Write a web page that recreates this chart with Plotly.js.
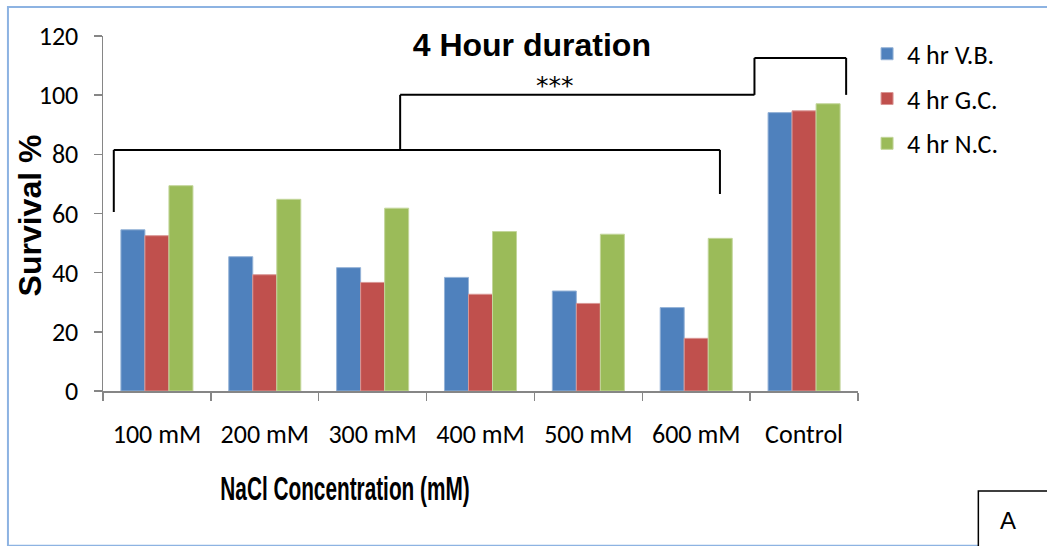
<!DOCTYPE html>
<html>
<head>
<meta charset="utf-8">
<script src="https://cdn.plot.ly/plotly-3.0.1.min.js"></script>
<style>
html,body{margin:0;padding:0;background:#fff;}
#chart{width:1047px;height:546px;}
</style>
</head>
<body>
<div id="chart"></div>
<script>
// ---- data ----
const categories = ["100 mM", "200 mM", "300 mM", "400 mM", "500 mM", "600 mM", "Control"];
const seriesNames = ["4 hr V.B.", "4 hr G.C.", "4 hr N.C."];
const vbValues = [54.5, 45.4, 41.7, 38.4, 33.8, 28.2, 94.1];
const gcValues = [52.5, 39.3, 36.7, 32.7, 29.6, 17.8, 94.7];
const ncValues = [69.4, 64.8, 61.8, 53.9, 53.0, 51.6, 97.1];
const yTicks = [0, 20, 40, 60, 80, 100, 120];
const seriesColors = ["#4F81BD", "#C0504D", "#9BBB59"];
const edgeColors = ["#95B3D7", "#D99694", "#C3D69B"];

// bracket geometry in data units (category index, survival %)
const lowerBracket = {x0: -0.4, x1: 5.22, y: 81.5, leftFoot: 60.5, rightFoot: 66.6};
const upperBracket = {xMid: 2.255, xStep: 5.54, xEnd: 6.39, y: 100.1, yTop: 112.6};
const sigLabel = "***";
const xTitleText = "NaCl Concentration (mM)";

const seriesValues = [vbValues, gcValues, ncValues];
const traces = seriesValues.map((vals, i) => ({
  type: "bar",
  name: seriesNames[i],
  legendgroup: "g" + i,
  x: categories,
  y: vals,
  marker: {color: seriesColors[i], line: {color: edgeColors[i], width: 1}},
  hoverinfo: "x+y+name"
}));

const blk = {color: "#000", width: 2};
function seg(x0, y0, x1, y1) {
  return {type: "line", xref: "x", yref: "y", x0: x0, y0: y0, x1: x1, y1: y1, line: blk, layer: "above"};
}
const lb = lowerBracket, ub = upperBracket;
const shapes = [
  seg(lb.x0, lb.leftFoot, lb.x0, lb.y),
  seg(lb.x0, lb.y, lb.x1, lb.y),
  seg(lb.x1, lb.y, lb.x1, lb.rightFoot),
  seg(ub.xMid, lb.y, ub.xMid, ub.y),
  seg(ub.xMid, ub.y, ub.xStep, ub.y),
  seg(ub.xStep, ub.y, ub.xStep, ub.yTop),
  seg(ub.xStep, ub.yTop, ub.xEnd, ub.yTop),
  seg(ub.xEnd, ub.yTop, ub.xEnd, ub.y),
  // outer frame
  {type: "rect", xref: "paper", yref: "paper", x0: -0.1259, x1: 1.26, y0: -0.436, y1: 1.0817,
   line: {color: "#8DB3E2", width: 2}, fillcolor: "rgba(0,0,0,0)"},
  // "A" box
  {type: "rect", xref: "paper", yref: "paper", x0: 1.1594, x1: 1.26, y0: -0.46, y1: -0.2817,
   line: {color: "#000", width: 1.5}, fillcolor: "#fff"}
];

const tickFont = {family: "Calibri, Carlito, Lato, sans-serif", size: 26, color: "#000"};

const layout = {
  width: 1047, height: 546,
  margin: {l: 103, r: 189, t: 36, b: 155, pad: 0},
  paper_bgcolor: "#fff", plot_bgcolor: "#fff",
  barmode: "group", bargap: 0.332, bargroupgap: 0,
  title: {text: "4 Hour duration", font: {family: "Liberation Sans, Arial, sans-serif", size: 32, color: "#000", weight: "bold"},
          xref: "paper", x: 0.568, xanchor: "center", yref: "container", y: 0.918, yanchor: "middle"},
  xaxis: {
    type: "category", range: [-0.5, 6.5], showline: true, linecolor: "#868686", linewidth: 1.5,
    ticks: "outside", ticklen: 8, tickcolor: "#868686", tickwidth: 1.5, tickson: "boundaries",
    tickfont: tickFont, ticklabelstandoff: 19, showgrid: false, zeroline: false, fixedrange: true
  },
  yaxis: {
    range: [0, 120], tickvals: yTicks, ticktext: yTicks.map(String), showline: true, linecolor: "#868686", linewidth: 1.5,
    ticks: "outside", ticklen: 8, tickcolor: "#868686", tickwidth: 1.5,
    tickfont: tickFont, ticklabelstandoff: 10, showgrid: false, zeroline: false, fixedrange: true
  },
  legend: {
    x: 1.012, xanchor: "left", y: 1.016, yanchor: "top", tracegroupgap: 8,
    font: {family: "Calibri, Carlito, Lato, sans-serif", size: 26, color: "#000"},
    bgcolor: "rgba(0,0,0,0)"
  },
  shapes: shapes,
  annotations: [
    {text: sigLabel, xref: "x", yref: "y", x: 3.69, y: 103.3, showarrow: false,
     font: {family: "DejaVu Sans, sans-serif", size: 25, color: "#000"}},
    {text: xTitleText, xref: "paper", yref: "paper", x: 0.3201, y: -0.2745, showarrow: false,
     xanchor: "center", yanchor: "middle",
     font: {family: "Liberation Sans, Arial, sans-serif", size: 33, color: "#000", weight: "bold"}},
    {text: "Survival %", xref: "paper", yref: "paper", x: -0.0961, y: 0.4958, showarrow: false, textangle: -90,
     xanchor: "center", yanchor: "middle",
     font: {family: "Liberation Sans, Arial, sans-serif", size: 32, color: "#000", weight: "bold"}},
    {text: "A", xref: "paper", yref: "paper", x: 1.1992, y: -0.366, showarrow: false, xanchor: "center", yanchor: "middle",
     font: {family: "Liberation Sans, Arial, sans-serif", size: 24, color: "#000"}}
  ],
  showlegend: true
};

Plotly.newPlot("chart", traces, layout, {displayModeBar: false, staticPlot: true}).then(gd => {
  // the reference uses a condensed bold face for the x-axis title
  gd.querySelectorAll("text.annotation-text").forEach(t => {
    if (t.textContent === xTitleText) {
      const bb = t.getBBox();
      const cx = bb.x + bb.width / 2;
      t.setAttribute("transform", `translate(${cx},0) scale(0.63,1) translate(${-cx},0)`);
    }
  });
});
</script>
</body>
</html>
